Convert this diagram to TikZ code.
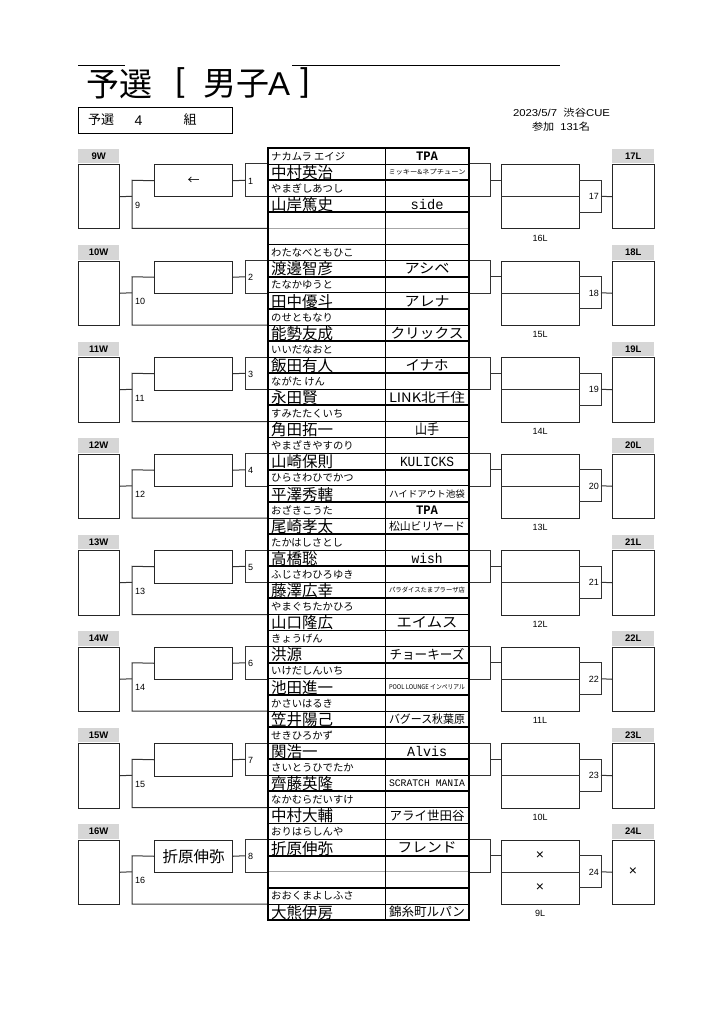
\documentclass[tikz,border=0pt]{standalone}
\usepackage{fontspec}
\usepackage{graphicx}
\setmainfont{Liberation Sans}
\setmonofont{Liberation Mono}
\newfontfamily\jp{Noto Sans CJK JP}
\newcommand\fitw[2]{\resizebox{#1}{\height}{#2}}
\newcommand\cj[3]{{\jp\fontsize{#1}{#1}\selectfont\fitw{#2pt}{#3}}}
\newcommand\cm[3]{{\ttfamily\fontsize{#1}{#1}\selectfont\fitw{#2pt}{#3}}}
\newcommand\cmb[3]{{\ttfamily\bfseries\fontsize{#1}{#1}\selectfont\fitw{#2pt}{#3}}}
\tikzset{
  brk/.style={line width=1pt, draw=black!80},
  boxw/.style={draw=black!85, line width=1pt, inner sep=0pt},
  hdr/.style={fill=black!16, font=\bfseries\fontsize{9.5}{9.5}\selectfont, inner sep=0pt},
  lbl/.style={font=\fontsize{9}{9}\selectfont, inner sep=1pt},
  furi/.style={anchor=west, font=\jp\fontsize{10.3}{11}\selectfont, inner sep=0pt},
  pname/.style={anchor=west, font=\jp\fontsize{15.5}{16}\selectfont, inner sep=0pt},
  club/.style={inner sep=0pt},
  tthick/.style={line width=1.8pt},
  tthin/.style={line width=0.6pt},
  tgray/.style={line width=1pt, draw=black!35},
}
\newcommand\pl[4]{%
  \pgfmathsetmacro\yt{148+32.1667*#1}
  \node[furi] (f#1) at (271,\yt+8.3) {#2};
  \node[pname] (n#1) at (271,\yt+24.6) {#3};
  \node[club] (c#1) at (427,\yt+24.3) {#4};
}
\newcommand\cltop[2]{%
  \pgfmathsetmacro\yt{148+32.1667*#1}
  \node[club] (ct#1) at (427,\yt+8.3) {#2};
}
\begin{document}
\begin{tikzpicture}[x=1pt,y=-1pt]
\fill[white] (0,0) rectangle (724,1024);
\useasboundingbox (0,0) rectangle (724,1024);

% title
\draw[line width=0.8pt] (78,65) -- (125,65);
\draw[line width=0.8pt] (292,65) -- (560,65);
\node[anchor=west, inner sep=0pt, font=\jp\fontsize{33}{33}\selectfont] (t1) at (86,84) {予選};
\node[inner sep=0pt, font=\fontsize{33}{33}\selectfont] (t2) at (180,83) {[};
\node[anchor=west, inner sep=0pt, font=\jp\fontsize{33}{33}\selectfont] (t3) at (203,84) {男子};
\node[anchor=west, inner sep=0pt, font=\fontsize{33}{33}\selectfont] (t4) at (268,84) {A};
\node[inner sep=0pt, font=\fontsize{33}{33}\selectfont] (t5) at (305,83) {]};

\node[draw, line width=0.8pt, anchor=north west, minimum width=154pt, minimum height=26pt, inner sep=0pt] (grp) at (78,107) {};
\node[anchor=west, inner sep=0pt, font=\jp\fontsize{13}{13}\selectfont] (g1) at (88,120) {予選};
\node[inner sep=0pt, font=\fontsize{14}{14}\selectfont] (g2) at (138.5,120.5) {4};
\node[inner sep=0pt, font=\jp\fontsize{13}{13}\selectfont] (g3) at (190,120) {組};

\node[inner sep=0pt] (dt) at (561.5,113) {\fitw{97pt}{\fontsize{10}{10}\selectfont 2023/5/7\ \ {\jp 渋谷}CUE}};
\node[inner sep=0pt] (np) at (561,127) {\fitw{58pt}{\fontsize{10}{10}\selectfont{\jp 参加}\ \ 131{\jp 名}}};

% brackets
\foreach \k in {0,...,7}{
  \pgfmathsetmacro\yo{148+96.5*\k}
  \pgfmathtruncatemacro\wn{\k+9}
  \pgfmathtruncatemacro\mn{\k+1}
  \pgfmathtruncatemacro\rn{\k+17}
  \pgfmathtruncatemacro\lnn{16-\k}
  % left side
  \node[hdr, minimum width=41pt, minimum height=14.5pt, anchor=north west] (hw\k) at (78,\yo+0.5) {\wn W};
  \node[boxw, minimum width=41pt, minimum height=64.5pt, anchor=north west] (bw\k) at (78,\yo+16) {};
  \node[boxw, minimum width=78pt, minimum height=32.5pt, anchor=north west] (res\k) at (154,\yo+16) {};
  \coordinate (ta\k) at (268,\yo+16);
  \coordinate (tb\k) at (268,\yo+48.5);
  \coordinate (tc\k) at (268,\yo+80.5);
  \coordinate (la\k) at (245,\yo+32.25);
  \coordinate (lb\k) at (132,\yo+48.25);
  \draw[brk] (ta\k) -- (245,\yo+16) -- (245,\yo+48.5) -- (tb\k);
  \draw[brk] (la\k) -- (res\k.east);
  \node[lbl, anchor=west] (ln\k) at (247,\yo+33) {\mn};
  \draw[brk] (res\k.west) -- (132,\yo+32.25) -- (132,\yo+80.5) -- (tc\k);
  \draw[brk] (lb\k) -- (bw\k.east);
  \node[lbl, anchor=west] (lw\k) at (134,\yo+57) {\wn};
  % right side
  \coordinate (ra\k) at (469,\yo+16);
  \coordinate (rb\k) at (469,\yo+48.5);
  \coordinate (rs\k) at (490,\yo+32.25);
  \node[boxw, minimum width=78pt, minimum height=64.5pt, anchor=north west] (lbx\k) at (501,\yo+16) {};
  \draw[brk] (lbx\k.west) -- (lbx\k.east);
  \draw[brk] (ra\k) -- (490,\yo+16) -- (490,\yo+48.5) -- (rb\k);
  \draw[brk] (rs\k) -- (501,\yo+32.25);
  \draw[brk] (579,\yo+32.25) -- (601,\yo+32.25) -- (601,\yo+64.4) -- (579,\yo+64.4);
  \node[lbl, anchor=east] (rn\k) at (600,\yo+48.5) {\rn};
  \node[boxw, minimum width=42pt, minimum height=64.5pt, anchor=north west] (rl\k) at (612,\yo+16) {};
  \coordinate (rc\k) at (601,\yo+48.25);
  \draw[brk] (rc\k) -- (rl\k.west);
  \node[hdr, minimum width=42pt, minimum height=14.5pt, anchor=north west] (hl\k) at (612,\yo+0.5) {\rn L};
  \node[lbl] (ll\k) at (540,\yo+90) {\lnn L};
}

% result box contents
\node[font=\jp\fontsize{12}{12}\selectfont, inner sep=0pt] (arr) at (res0.center) {←};
\node[font=\jp\fontsize{15.5}{16}\selectfont, inner sep=0pt] (win8) at (res7.center) {折原伸弥};
\node[font=\fontsize{14}{14}\selectfont, inner sep=0pt] (x1) at (540,823.5+32.25) {×};
\node[font=\fontsize{14}{14}\selectfont, inner sep=0pt] (x2) at (540,823.5+64.4) {×};
\node[font=\fontsize{14}{14}\selectfont, inner sep=0pt] (x3) at (633,823.5+48.25) {×};

% table lines
\foreach \j in {0,1,3,4,5,6,7,8,9,10,11,12,13,14,15,16,17,18,19,20,21,23}{
  \pgfmathsetmacro\yt{148+32.1667*\j}
  \draw[tthin] (268,\yt+16.08) -- (469,\yt+16.08);
}
\foreach \j in {2,22}{
  \pgfmathsetmacro\yt{148+32.1667*\j}
  \draw[tgray] (268,\yt+16.08) -- (469,\yt+16.08);
}
\foreach \j in {0,...,23}{
  \pgfmathsetmacro\yt{148+32.1667*\j}
  \draw[tthick] (268,\yt) -- (469,\yt);
}
\draw[tthin] (385,148) -- (385,920);
\draw[tthick] (268,147.1) -- (268,920.9);
\draw[tthick] (469,147.1) -- (469,920.9);
\draw[tthick] (267.1,920) -- (469.9,920);

% players
\pl{0}{ナカムラ エイジ}{中村英治}{\cj{6.5}{77}{ミッキー\&ネプチューン}}
\cltop{0}{\cmb{13}{22}{TPA}}
\pl{1}{やまぎしあつし}{山岸篤史}{\cm{14}{33}{side}}
\pl{3}{わたなべともひこ}{渡邊智彦}{\cj{14}{45}{アシベ}}
\pl{4}{たなかゆうと}{田中優斗}{\cj{14}{45}{アレナ}}
\pl{5}{のせともなり}{能勢友成}{\cj{14}{73}{クリックス}}
\pl{6}{いいだなおと}{飯田有人}{\cj{14}{43}{イナホ}}
\pl{7}{ながた けん}{永田賢}{\cj{13}{76}{LINK北千住}}
\pl{8}{すみたたくいち}{角田拓一}{\cj{14}{24}{山手}}
\pl{9}{やまざきやすのり}{山崎保則}{\cm{14}{54}{KULICKS}}
\pl{10}{ひらさわひでかつ}{平澤秀轄}{\cj{9}{76}{ハイドアウト池袋}}
\pl{11}{おざきこうた}{尾崎孝太}{\cj{11}{76}{松山ビリヤード}}
\cltop{11}{\cmb{13}{22}{TPA}}
\pl{12}{たかはしさとし}{高橋聡}{\cm{14}{31}{wish}}
\pl{13}{ふじさわひろゆき}{藤澤広幸}{\cj{6.5}{76}{パラダイスたまプラーザ店}}
\pl{14}{やまぐちたかひろ}{山口隆広}{\cj{14}{61}{エイムス}}
\pl{15}{きょうげん}{洪源}{\cj{13}{75}{チョーキーズ}}
\pl{16}{いけだしんいち}{池田進一}{\cj{6.5}{76}{POOL LOUNGE インペリアル}}
\pl{17}{かさいはるき}{笠井陽己}{\cj{11.5}{76}{バグース秋葉原}}
\pl{18}{せきひろかず}{関浩一}{\cm{14}{40}{Alvis}}
\pl{19}{さいとうひでたか}{齊藤英隆}{\cm{10}{76}{SCRATCH MANIA}}
\pl{20}{なかむらだいすけ}{中村大輔}{\cj{12.5}{75}{アライ世田谷}}
\pl{21}{おりはらしんや}{折原伸弥}{\cj{14}{59}{フレンド}}
\pl{23}{おおくまよしふさ}{大熊伊房}{\cj{12.5}{76}{錦糸町ルパン}}
\end{tikzpicture}
\end{document}
